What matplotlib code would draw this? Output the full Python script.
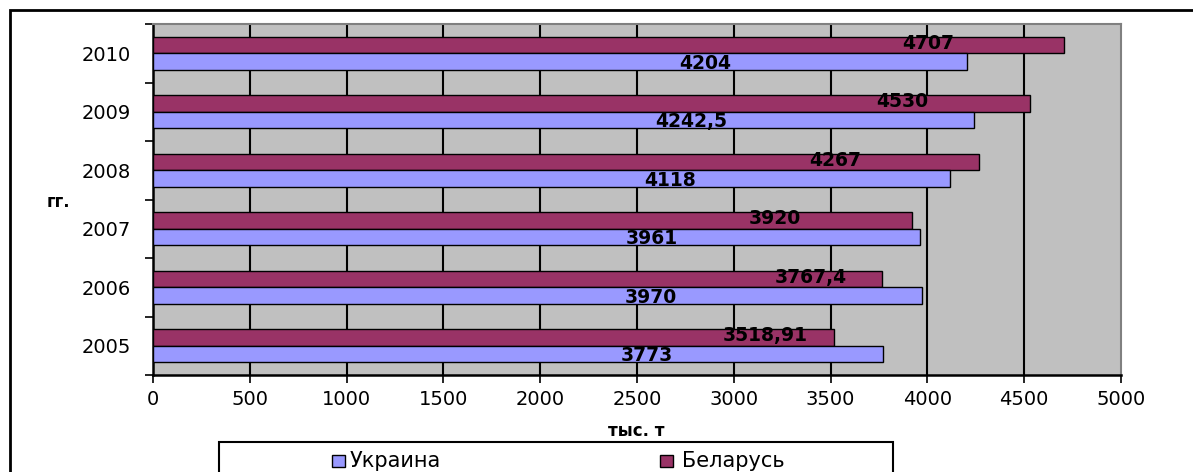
import matplotlib
matplotlib.use("Agg")
import matplotlib.pyplot as plt
from matplotlib.patches import Rectangle
from matplotlib.lines import Line2D
import numpy as np

years = ["2005", "2006", "2007", "2008", "2009", "2010"]
ukraine = [3773, 3970, 3961, 4118, 4242.5, 4204]
belarus = [3518.91, 3767.4, 3920, 4267, 4530, 4707]
ukraine_lbl = ["3773", "3970", "3961", "4118", "4242,5", "4204"]
belarus_lbl = ["3518,91", "3767,4", "3920", "4267", "4530", "4707"]
# label anchor positions (x, data units) as placed in the original
ukraine_lbl_x = [2552, 2572, 2577, 2670, 2779, 2851]
belarus_lbl_x = [3161, 3399, 3213, 3523, 3869, 4003]
xticks = [0, 500, 1000, 1500, 2000, 2500, 3000, 3500, 4000, 4500, 5000]

W, H = 1193, 472
fig = plt.figure(figsize=(W / 100, H / 100), dpi=100)
plt.rcParams['font.family'] = ['DejaVu Sans']

def fx(px):
    return px / W

def fy(py):
    return 1 - py / H

left, right, top, bottom = 153, 1121, 24, 375
ax = fig.add_axes([fx(left), fy(bottom), (right - left) / W, (bottom - top) / H])
ax.set_facecolor('#C0C0C0')

y = np.arange(len(years))
bh = 0.285
ax.barh(y + bh / 2, belarus, height=bh, color='#993366', edgecolor='black', linewidth=1.0, zorder=3)
ax.barh(y - bh / 2, ukraine, height=bh, color='#9999FF', edgecolor='black', linewidth=1.0, zorder=3)

for i in range(len(years)):
    ax.text(belarus_lbl_x[i], y[i] + bh / 2 + 0.03, belarus_lbl[i], ha='center', va='center',
            fontsize=13.5, fontweight='bold', color='black', zorder=5)
    ax.text(ukraine_lbl_x[i], y[i] - bh / 2 - 0.03, ukraine_lbl[i], ha='center', va='center',
            fontsize=13.5, fontweight='bold', color='black', zorder=5)

ax.set_xlim(0, 5000)
ax.set_ylim(-0.5, len(years) - 0.5)
ax.set_xticks(xticks)
ax.set_xticklabels([str(v) for v in xticks], fontsize=14)
for xv in xticks[1:-1]:
    ax.axvline(xv, color='black', linewidth=1.5, zorder=1)

ax.set_yticks(y)
ax.set_yticklabels(years, fontsize=14)
ax.set_yticks(np.arange(-0.5, len(years), 1.0), minor=True)
ax.tick_params(axis='y', which='major', length=0, pad=16)
ax.tick_params(axis='y', which='minor', length=6, width=1.2, direction='out', color='black')
ax.tick_params(axis='x', which='major', length=6, width=1.2, direction='out', pad=5)

for s in ['left', 'bottom']:
    ax.spines[s].set_color('black')
    ax.spines[s].set_linewidth(1.8)
for s in ['top', 'right']:
    ax.spines[s].set_color('#808080')
    ax.spines[s].set_linewidth(1.5)

# outer chart frame (top and left edges visible)
fig.add_artist(Line2D([fx(10), fx(10), fx(W - 0.5)], [fy(H), fy(10), fy(10)],
                      transform=fig.transFigure, color='black', linewidth=2,
                      solid_capstyle='butt', solid_joinstyle='miter'))

fig.text(fx(58), fy(202), "гг.", fontsize=12, fontweight='bold', ha='center', va='center')
fig.text(fx(636), fy(431), "тыс. т", fontsize=12, fontweight='bold', ha='center', va='center')

# legend box
fig.add_artist(Line2D([fx(219), fx(219), fx(893), fx(893)], [fy(H), fy(442), fy(442), fy(H)],
                      transform=fig.transFigure, color='black', linewidth=1.5,
                      solid_capstyle='butt', solid_joinstyle='miter'))
fig.patches.append(Rectangle((fx(332), fy(467)), 13 / W, 12 / H, transform=fig.transFigure,
                             facecolor='#9999FF', edgecolor='black', linewidth=1.0))
fig.text(fx(350), fy(461), "Украина", fontsize=15, ha='left', va='center')
fig.patches.append(Rectangle((fx(660), fy(467)), 13 / W, 12 / H, transform=fig.transFigure,
                             facecolor='#993366', edgecolor='black', linewidth=1.0))
fig.text(fx(682), fy(461), "Беларусь", fontsize=15, ha='left', va='center')

fig.savefig("out.png", dpi=100, facecolor='white')
